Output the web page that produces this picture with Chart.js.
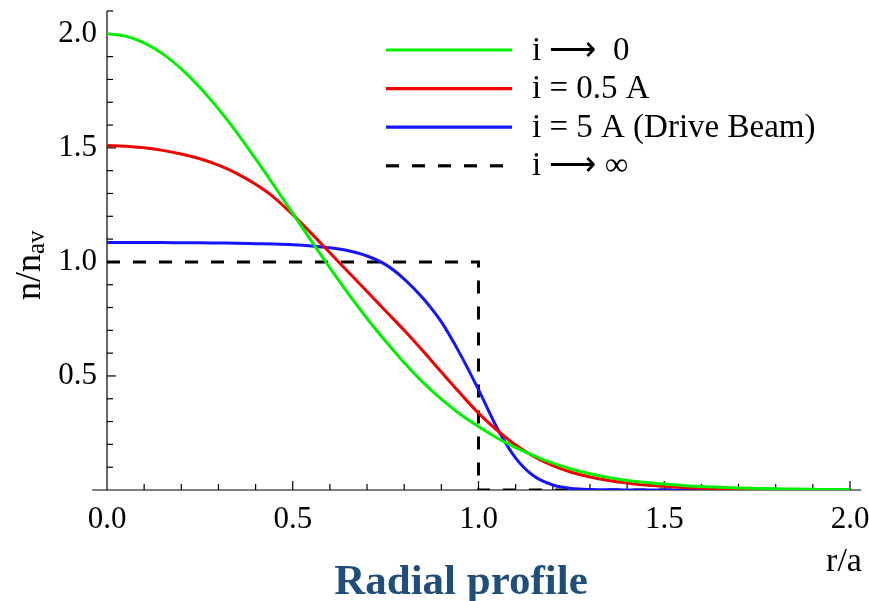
<!DOCTYPE html>
<html>
<head>
<meta charset="utf-8">
<script src="https://cdn.jsdelivr.net/npm/chart.js@4.4.1/dist/chart.umd.min.js"></script>
<style>
  body { margin: 0; background: #fff; }
</style>
</head>
<body>
<canvas id="grafico" width="869" height="601"></canvas>
<script>
// raggio normalizzato r/a (griglia comune per le tre curve, passo 0.05)
var raggio = [0, 0.05, 0.1, 0.15, 0.2, 0.25, 0.3, 0.35, 0.4, 0.45, 0.5, 0.55, 0.6, 0.65, 0.7, 0.75, 0.8, 0.85, 0.9, 0.95,
              1.0, 1.05, 1.1, 1.15, 1.2, 1.25, 1.3, 1.35, 1.4, 1.45, 1.5, 1.55, 1.6, 1.65, 1.7, 1.75, 1.8, 1.85, 1.9, 1.95, 2.0];

// n/n_av
var n_corrente_zero = [2.000, 1.990, 1.960, 1.912, 1.846, 1.765, 1.671, 1.566, 1.452, 1.334, 1.213, 1.092, 0.974, 0.860,
                       0.752, 0.652, 0.558, 0.473, 0.398, 0.333, 0.278, 0.228, 0.186, 0.150, 0.118, 0.092, 0.071, 0.055,
                       0.042, 0.033, 0.026, 0.020, 0.015, 0.012, 0.009, 0.007, 0.005, 0.004, 0.003, 0.002, 0.002];
var n_corrente_05 = [1.510, 1.507, 1.500, 1.489, 1.473, 1.452, 1.424, 1.387, 1.340, 1.282, 1.207, 1.125, 1.040, 0.955,
                     0.870, 0.785, 0.700, 0.610, 0.517, 0.425, 0.337, 0.262, 0.197, 0.146, 0.107, 0.078, 0.057, 0.042,
                     0.031, 0.022, 0.016, 0.011, 0.008, 0.006, 0.004, 0.003, 0.002, 0.001, 0.001, 0, 0];
var n_corrente_5 = [1.085, 1.085, 1.085, 1.085, 1.084, 1.084, 1.083, 1.082, 1.080, 1.078, 1.075, 1.070, 1.062, 1.049,
                    1.026, 0.988, 0.925, 0.842, 0.737, 0.598, 0.440, 0.272, 0.140, 0.060, 0.022, 0.007, 0.002, 0.001,
                    0, 0, 0, 0, 0, 0, 0, 0, 0, 0, 0, 0, 0];

// profilo a gradino (i -> infinito)
var gradino_r = [0, 1, 1, 2];
var gradino_n = [1, 1, 0, 0];

var etichette = ['i \u27F6  0', 'i = 0.5 A', 'i = 5 A (Drive Beam)', 'i \u27F6 \u221E'];
var colori = ['rgb(0, 240, 0)', 'rgb(240, 0, 0)', 'rgb(20, 20, 255)', '#000000'];
var tick_y = [0.5, 1.0, 1.5, 2.0];

var serif = '"Liberation Serif", "Times New Roman", serif';

function punti(xs, ys) {
    return xs.map(function (x, i) { return { x: x, y: ys[i] }; });
}

function linea(ctx, x1, y1, x2, y2) {
    ctx.beginPath();
    ctx.moveTo(x1, y1);
    ctx.lineTo(x2, y2);
    ctx.stroke();
}

// assi con tacche verso l'interno, legenda e titoli
var decorazioni = {
    id: 'decorazioni',
    beforeDatasetsDraw: function (chart) {
        var ctx = chart.ctx;
        var sx = chart.scales.x, sy = chart.scales.y;
        var y0 = sy.getPixelForValue(0), x0 = sx.getPixelForValue(0);
        ctx.save();
        ctx.strokeStyle = '#000';
        ctx.lineWidth = 1.2;
        linea(ctx, sx.getPixelForValue(-0.04), y0, sx.getPixelForValue(2.03), y0);
        linea(ctx, x0, y0, x0, sy.getPixelForValue(2.1));
        for (var k = 1; k <= 20; k++) {
            var px = sx.getPixelForValue(k / 10);
            linea(ctx, px, y0, px, y0 - (k % 5 === 0 ? 9 : 6));
        }
        for (var j = 1; j <= 21; j++) {
            var py = sy.getPixelForValue(j / 10);
            linea(ctx, x0, py, x0 + (j % 5 === 0 ? 9 : 6), py);
        }
        ctx.restore();
    },
    afterDraw: function (chart) {
        var ctx = chart.ctx;
        ctx.save();

        // legenda
        ctx.font = '33px ' + serif;
        ctx.textBaseline = 'middle';
        ctx.fillStyle = '#000';
        chart.data.datasets.forEach(function (ds, i) {
            var yl = 50 + i * 38.6;
            ctx.strokeStyle = ds.borderColor;
            ctx.lineWidth = 3.2;
            ctx.setLineDash(ds.borderDash || []);
            linea(ctx, 386, yl, 512, yl);
            ctx.setLineDash([]);
            ctx.fillText(ds.label, 532, yl + 1);
        });

        // titolo asse y: n/n_av
        ctx.translate(40, 300);
        ctx.rotate(-Math.PI / 2);
        ctx.textBaseline = 'alphabetic';
        ctx.textAlign = 'left';
        ctx.font = '36px ' + serif;
        ctx.fillText('n/n', 0, 0);
        var w = ctx.measureText('n/n').width;
        ctx.font = '25px ' + serif;
        ctx.fillText('av', w, 4);
        ctx.setTransform(1, 0, 0, 1, 0, 0);

        // titolo asse x
        ctx.font = '34px ' + serif;
        ctx.textAlign = 'center';
        ctx.fillText('r/a', 844, 571);

        // didascalia
        ctx.font = 'bold 43px ' + serif;
        ctx.fillStyle = '#1F4E7A';
        ctx.fillText('Radial profile', 461, 594);
        ctx.restore();
    }
};

var ctx = document.getElementById('grafico').getContext('2d');

var grafico = new Chart(ctx, {
    type: 'line',
    data: {
        datasets: [
            { label: etichette[0], data: punti(raggio, n_corrente_zero), borderColor: colori[0], borderWidth: 3, cubicInterpolationMode: 'monotone' },
            { label: etichette[1], data: punti(raggio, n_corrente_05), borderColor: colori[1], borderWidth: 3, cubicInterpolationMode: 'monotone' },
            { label: etichette[2], data: punti(raggio, n_corrente_5), borderColor: colori[2], borderWidth: 3, cubicInterpolationMode: 'monotone' },
            { label: etichette[3], data: punti(gradino_r, gradino_n), borderColor: colori[3], borderWidth: 3, borderDash: [13, 13], tension: 0 }
        ]
    },
    options: {
        responsive: false,
        animation: false,
        elements: { point: { radius: 0 } },
        layout: { padding: { top: 11, right: 19, left: 0, bottom: 0 } },
        plugins: {
            legend: { display: false },
            tooltip: { enabled: false }
        },
        scales: {
            x: {
                type: 'linear',
                min: 0,
                max: 2,
                grid: { display: false, drawTicks: false },
                border: { display: false },
                ticks: {
                    stepSize: 0.5,
                    padding: 11,
                    color: '#000',
                    font: { family: serif, size: 31 },
                    callback: function (v) { return v.toFixed(1); }
                },
                afterFit: function (scale) {
                    scale.height = 111;
                    scale.paddingLeft = 0;
                    scale.paddingRight = 0;
                }
            },
            y: {
                type: 'linear',
                min: 0,
                max: 2.1,
                grid: { display: false, drawTicks: false },
                border: { display: false },
                afterBuildTicks: function (scale) {
                    scale.ticks = tick_y.map(function (v) { return { value: v }; });
                },
                ticks: {
                    padding: 10,
                    color: '#000',
                    font: { family: serif, size: 31 },
                    callback: function (v) { return v.toFixed(1); }
                },
                afterFit: function (scale) {
                    scale.width = 107;
                    scale.paddingTop = 0;
                    scale.paddingBottom = 0;
                }
            }
        }
    },
    plugins: [decorazioni]
});
</script>
</body>
</html>
